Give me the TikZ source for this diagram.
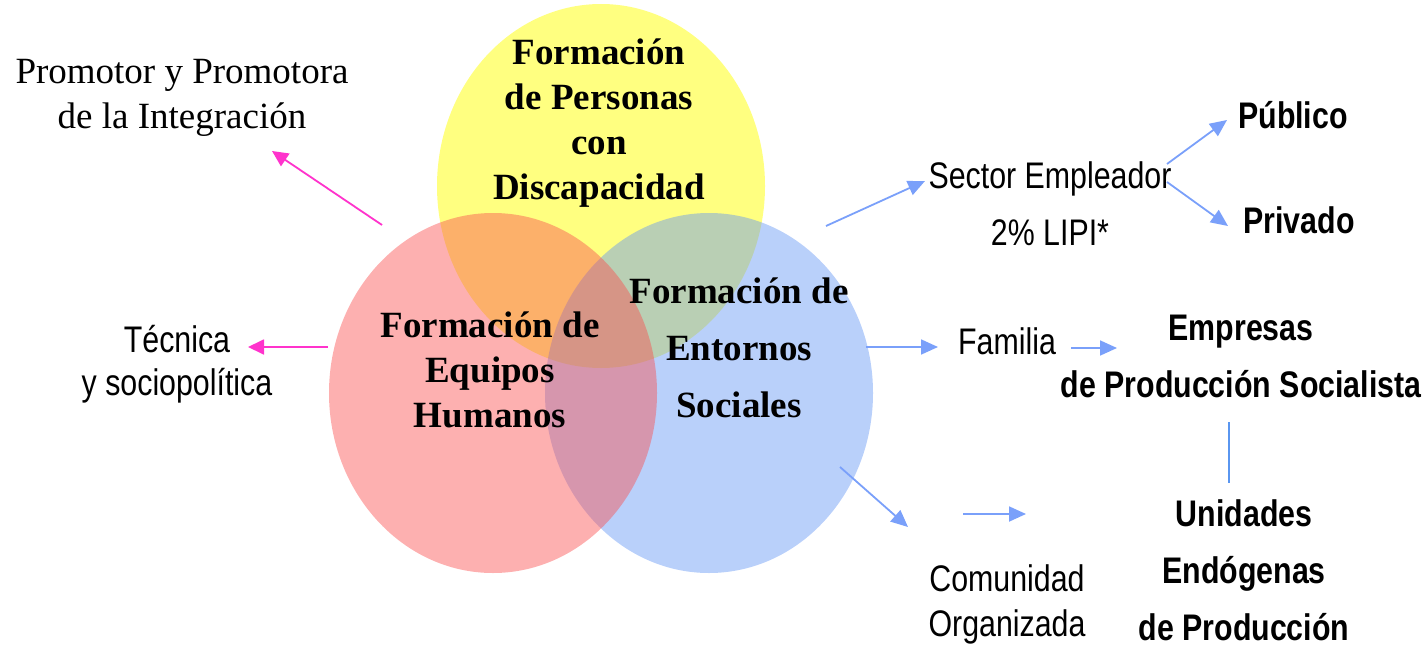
\documentclass[tikz,border=0pt]{standalone}
\usepackage{fontspec}
\setmainfont{Liberation Serif}
\newfontfamily\narrowsans[FakeStretch=0.82]{Liberation Sans}
\usetikzlibrary{arrows.meta}

\definecolor{yellowc}{RGB}{255,255,128}
\definecolor{redc}{RGB}{250,80,80}
\definecolor{bluec}{RGB}{100,150,245}
\definecolor{pinkline}{RGB}{255,51,204}
\definecolor{blueline}{RGB}{122,160,250}
\definecolor{vline}{RGB}{90,150,240}

\tikzset{
  lbl/.style={font=\narrowsans\fontsize{18.5}{28.5}\selectfont, align=center, inner sep=0pt},
  lblb/.style={font=\narrowsans\bfseries\fontsize{18.5}{28.5}\selectfont, align=center, inner sep=0pt},
  venn/.style={font=\bfseries\fontsize{18.5}{22.5}\selectfont, align=center, inner sep=0pt},
  pinkarrow/.style={-{Triangle[length=8pt,width=7.5pt]}, draw=pinkline, line width=0.9pt},
  bluearrow/.style={-{Triangle[length=8.5pt,width=7.5pt]}, draw=blueline, line width=0.9pt},
}

\begin{document}
\begin{tikzpicture}[x=0.5pt, y=-0.5pt]
            \useasboundingbox (0,0) rectangle (1428,647);

            % the three sets
            \fill[yellowc] (601,186) ellipse [x radius=164, y radius=182];
            \fill[bluec, fill opacity=0.45] (709,393) ellipse [x radius=164, y radius=180];
            \fill[redc, fill opacity=0.45] (493,393) ellipse [x radius=164, y radius=180];

            \node[venn] (perso) at (599,123) {Formación\\de Personas\\con\\Discapacidad};
            \node[venn] (equipo) at (490,370) {Formación de\\Equipos\\Humanos};
            \node[venn, font=\bfseries\fontsize{18.5}{28.5}\selectfont] (entorno) at (739,348) {Formación de\\Entornos\\Sociales};

            % left side
            \node[font=\fontsize{18.5}{22.5}\selectfont, align=center, inner sep=0pt] (promotor) at (182,98) {Promotor y Promotora\\de la Integración};
            \node[lbl, font=\narrowsans\fontsize{18.5}{21.5}\selectfont] (tecnica) at (177,364) {Técnica\\y sociopolítica};

            % right side
            \node[lbl] (sector) at (1050,204) {Sector Empleador\\2\% LIPI*};
            \node[lblb] (publico) at (1293,115) {Público};
            \node[lblb] (privado) at (1299,220) {Privado};
            \node[lbl] (familia) at (1007,341) {Familia};
            \node[lblb] (empresas) at (1241,356) {Empresas\\de Producción Socialista};
            \node[lbl, font=\narrowsans\fontsize{18.5}{22.5}\selectfont] (comunidad) at (1007,604) {Comunidad\\Organizada};
            \node[lblb] (unidades) at (1244,570) {Unidades\\Endógenas\\de Producción};

            % arrow ends
            \coordinate (p1) at (382,225);  \coordinate (p2) at (272,151);
            \coordinate (t1) at (328,347);  \coordinate (t2) at (248,347);
            \coordinate (s1) at (826,226);  \coordinate (s2) at (925,181);
            \coordinate (s3) at (1167,164); \coordinate (s4) at (1227,120);
            \coordinate (s5) at (1167,182); \coordinate (s6) at (1228,226);
            \coordinate (f1) at (866,347);  \coordinate (f2) at (938,347);
            \coordinate (f3) at (1071,348); \coordinate (f4) at (1117,348);
            \coordinate (c1) at (840,467);  \coordinate (c2) at (908,527);
            \coordinate (c3) at (963,514);  \coordinate (c4) at (1026,514);
            \coordinate (v1) at (1229,422); \coordinate (v2) at (1229,483);

            \draw[pinkarrow] (p1) -- (p2);
            \draw[pinkarrow] (t1) -- (t2);
            \foreach \a/\b in {s1/s2, s3/s4, s5/s6, f1/f2, f3/f4, c1/c2, c3/c4} {
                \draw[bluearrow] (\a) -- (\b);
            }
            \draw[vline, line width=0.9pt] (v1) -- (v2);

        \end{tikzpicture}
\end{document}
